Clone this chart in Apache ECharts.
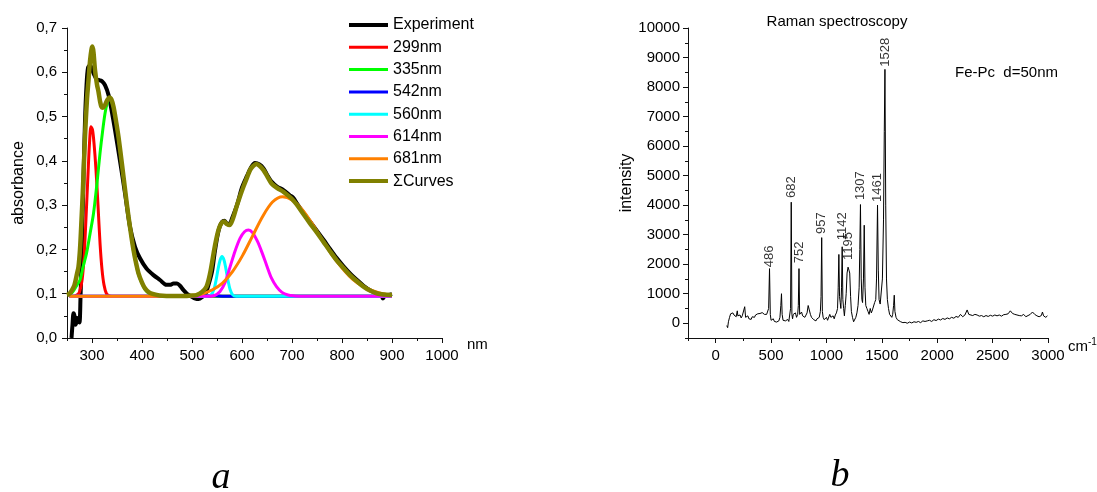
<!DOCTYPE html>
<html>
<head>
<meta charset="utf-8">
<script src="https://cdn.jsdelivr.net/npm/echarts@6/dist/echarts.min.js"></script>
<style>html,body{margin:0;padding:0;background:#fff;}#c{width:1097px;height:492px;}</style>
</head>
<body>
<div id="c"></div>
<script>
// ---------- Panel a: absorbance (nm, absorbance) ----------
const experiment = [[259,0.0],[261,0.03],[263,0.056],[265,0.05],[267,0.03],[269,0.035],[271,0.045],[273,0.04],[275,0.035],[277,0.09],[279,0.17],[281,0.27],[283,0.36],[286,0.49],[289,0.57],[292,0.61],[296,0.616],[300,0.607],[303,0.598],[309,0.585],[315,0.582],[320,0.58],[326,0.571],[333,0.549],[339,0.515],[346,0.47],[356,0.40],[366,0.327],[376,0.251],[386,0.206],[396,0.18],[409,0.157],[423,0.142],[436,0.131],[449,0.12],[456,0.12],[463,0.123],[470,0.123],[476,0.118],[483,0.108],[490,0.10],[500,0.093],[507,0.089],[513,0.088],[520,0.092],[527,0.10],[533,0.12],[540,0.15],[545,0.19],[550,0.225],[555,0.25],[560,0.262],[565,0.265],[570,0.258],[575,0.258],[580,0.27],[590,0.3],[600,0.34],[610,0.366],[618,0.385],[626,0.395],[635,0.392],[643,0.383],[651,0.367],[659,0.353],[670,0.342],[683,0.334],[695,0.323],[703,0.316],[709,0.305],[722,0.284],[736,0.263],[750,0.242],[763,0.222],[776,0.201],[789,0.181],[803,0.162],[816,0.146],[830,0.131],[843,0.118],[856,0.108],[869,0.101],[878,0.097],[882,0.089],[886,0.096],[893,0.097],[900,0.099]];
const c299 = [[255,0.094],[265,0.095],[270,0.097],[275,0.104],[280,0.13],[284,0.18],[288,0.27],[292,0.37],[295,0.44],[298,0.477],[301,0.47],[304,0.44],[308,0.379],[312,0.3],[316,0.215],[320,0.155],[324,0.12],[329,0.1],[335,0.095],[345,0.094],[900,0.094]];
const c335 = [[255,0.095],[262,0.105],[270,0.12],[276,0.131],[282,0.16],[289,0.191],[296,0.235],[303,0.281],[310,0.35],[316,0.417],[321,0.465],[326,0.507],[331,0.533],[335,0.541],[339,0.535],[343,0.52],[348,0.49],[353,0.452],[358,0.408],[363,0.362],[368,0.316],[373,0.272],[378,0.233],[383,0.197],[388,0.168],[393,0.144],[400,0.123],[406,0.11],[414,0.101],[423,0.097],[435,0.095],[450,0.094],[900,0.094]];
const c542 = [[255,0.094],[520,0.094],[542,0.096],[565,0.094],[900,0.094]];
const c560 = [[255,0.094],[530,0.094],[538,0.097],[544,0.11],[548,0.13],[552,0.155],[556,0.175],[560,0.184],[564,0.176],[568,0.155],[572,0.13],[576,0.11],[581,0.098],[588,0.094],[900,0.094]];
const c614 = [[255,0.094],[530,0.094],[545,0.096],[556,0.105],[566,0.125],[576,0.16],[586,0.196],[596,0.225],[605,0.24],[613,0.244],[621,0.238],[631,0.218],[641,0.19],[649,0.165],[659,0.135],[669,0.116],[680,0.103],[692,0.097],[705,0.095],[720,0.094],[900,0.094]];
const c681 = [[255,0.094],[480,0.094],[501,0.0965],[521,0.100],[541,0.109],[561,0.124],[581,0.150],[601,0.186],[621,0.230],[641,0.274],[661,0.307],[681,0.319],[701,0.311],[721,0.289],[741,0.257],[761,0.221],[781,0.186],[801,0.157],[821,0.133],[841,0.117],[861,0.107],[881,0.100],[900,0.097]];
const sumCurves = [[250,0.097],[255,0.1],[260,0.108],[265,0.12],[270,0.145],[273,0.161],[276,0.2],[279,0.266],[282,0.34],[286,0.454],[290,0.54],[293,0.582],[296,0.625],[299,0.652],[301,0.658],[303,0.645],[306,0.605],[310,0.572],[313,0.556],[316,0.535],[319,0.522],[322,0.52],[326,0.526],[330,0.536],[335,0.543],[339,0.538],[343,0.522],[348,0.49],[353,0.454],[358,0.41],[363,0.364],[368,0.318],[373,0.274],[378,0.235],[383,0.199],[388,0.17],[393,0.146],[400,0.125],[406,0.112],[414,0.103],[423,0.099],[435,0.096],[449,0.095],[470,0.095],[490,0.095],[502,0.096],[509,0.097],[520,0.104],[529,0.116],[536,0.145],[543,0.19],[548,0.22],[553,0.244],[558,0.258],[564,0.263],[570,0.257],[575,0.255],[582,0.27],[589,0.296],[596,0.32],[603,0.342],[610,0.362],[616,0.379],[622,0.388],[628,0.393],[635,0.389],[643,0.379],[651,0.364],[659,0.349],[670,0.339],[683,0.33],[693,0.321],[700,0.314],[709,0.302],[722,0.281],[736,0.259],[750,0.238],[763,0.217],[776,0.196],[789,0.176],[803,0.158],[816,0.142],[830,0.128],[843,0.116],[856,0.107],[869,0.101],[883,0.098],[896,0.097],[900,0.097]];
const legendNames = ['Experiment','299nm','335nm','542nm','560nm','614nm','681nm','ΣCurves'];
const absTicksMajor = [300,400,500,600,700,800,900,1000];
const absTicksMinor = [250,350,450,550,650,750,850,950];

// ---------- Panel b: Raman (cm-1, intensity) ----------
const raman = [[100,-80],[108,-150],[115,50],[125,200],[135,320],[145,260],[155,350],[165,280],[175,300],[185,220],[195,420],[200,250],[210,200],[220,280],[230,180],[240,250],[255,300],[262,560],[270,200],[280,180],[290,250],[300,150],[310,200],[320,130],[330,220],[340,250],[350,200],[360,280],[370,300],[380,320],[390,350],[400,330],[410,370],[420,360],[430,340],[440,300],[450,280],[460,300],[470,250],[478,500],[486,1850],[493,300],[500,100],[510,80],[520,150],[530,60],[540,120],[550,40],[560,100],[570,80],[580,200],[588,600],[594,1000],[600,300],[608,100],[620,120],[630,80],[640,60],[650,130],[660,60],[670,100],[676,500],[682,4100],[688,300],[694,150],[700,300],[710,250],[720,350],[730,200],[740,300],[746,600],[752,1850],[758,300],[765,250],[775,380],[785,250],[795,300],[805,200],[815,250],[825,350],[835,600],[845,450],[855,300],[865,200],[875,150],[885,120],[895,100],[905,80],[915,150],[925,120],[935,200],[945,400],[951,900],[957,2900],[963,400],[970,200],[980,120],[990,80],[1000,200],[1010,100],[1020,150],[1030,300],[1040,200],[1050,180],[1060,250],[1070,150],[1080,280],[1090,350],[1100,500],[1106,1200],[1112,2330],[1118,900],[1124,700],[1130,500],[1136,1200],[1142,2590],[1148,800],[1155,500],[1162,250],[1170,600],[1178,1000],[1186,1700],[1195,1900],[1203,1800],[1210,1700],[1218,900],[1225,400],[1235,200],[1245,50],[1255,100],[1265,200],[1275,350],[1285,600],[1295,1200],[1301,2500],[1307,4020],[1314,1500],[1320,800],[1326,700],[1334,1500],[1341,3320],[1348,1200],[1355,600],[1365,500],[1375,400],[1385,300],[1395,500],[1405,350],[1415,450],[1425,400],[1435,700],[1445,800],[1452,1500],[1461,4000],[1468,1800],[1475,800],[1485,650],[1495,700],[1505,1500],[1515,3500],[1522,6500],[1528,8600],[1535,4000],[1542,1500],[1550,800],[1560,500],[1570,300],[1580,250],[1590,200],[1598,300],[1606,600],[1612,950],[1618,400],[1628,200],[1640,120],[1655,80],[1670,50],[1690,20],[1710,30],[1730,0],[1750,40],[1770,10],[1790,50],[1810,30],[1830,60],[1850,20],[1870,80],[1880,140],[1890,60],[1910,80],[1930,100],[1950,60],[1970,120],[1990,90],[2010,140],[2030,110],[2050,160],[2070,130],[2090,180],[2110,150],[2130,200],[2150,170],[2170,230],[2190,200],[2210,300],[2230,220],[2250,280],[2270,450],[2285,300],[2300,320],[2320,260],[2340,300],[2360,280],[2380,240],[2400,260],[2420,220],[2440,260],[2460,230],[2480,270],[2500,240],[2520,280],[2540,250],[2560,280],[2580,240],[2600,290],[2620,300],[2640,320],[2660,420],[2670,400],[2680,330],[2700,300],[2720,280],[2740,260],[2760,250],[2780,300],[2800,220],[2820,260],[2840,300],[2860,380],[2870,400],[2880,300],[2900,250],[2920,220],[2940,260],[2950,380],[2960,250],[2980,200],[2995,250]];
const peakNames = ['486','682','752','957','1142','1195','1307','1461','1528'];
const peakX = [486,682,752,957,1142,1195,1307,1461,1528];
const peakLabelY = [1900,4240,2030,3020,2810,2140,4170,4110,8690];
const ramanTicksMajorX = [0,500,1000,1500,2000,2500,3000];
const ramanTicksMinorX = [-250,250,750,1250,1750,2250,2750];
const ramanTicksMajorY = [0,1000,2000,3000,4000,5000,6000,7000,8000,9000,10000];
const ramanTicksMinorY = [-500,500,1500,2500,3500,4500,5500,6500,7500,8500,9500];

const FONT = 'Liberation Sans, Arial, sans-serif';
const AX = '#111';
const colors = ['#000000','#ff0000','#00ff00','#0000ff','#00ffff','#ff00ff','#ff8000','#808000'];
const widths = [4,3,3,3,3,3,3,4.5];
const legendWidths = [4,3,3,3,3,3,3,4];
const absData = [experiment,c299,c335,c542,c560,c614,c681,sumCurves];

function majorAxis(grid, min, max, ticks, fmt, isX) {
  return {
    type:'value', gridIndex:grid, min:min, max:max, interval: isX ? 50 : 500,
    position: isX ? 'bottom' : 'left',
    axisLine:{show:true,onZero:false,lineStyle:{color:AX,width:1}},
    axisTick:{show:true,inside:false,length:5,customValues:ticks,lineStyle:{color:AX}},
    axisLabel:{show:true,customValues:ticks,margin:isX?10:8,fontFamily:FONT,fontSize:15,color:'#000',formatter:fmt},
    splitLine:{show:false}
  };
}
function minorAxis(grid, min, max, ticks, isX) {
  return {
    type:'value', gridIndex:grid, min:min, max:max, interval: isX ? 50 : 500,
    position: isX ? 'bottom' : 'left',
    axisLine:{show:false,onZero:false},
    axisTick:{show:true,inside:false,length:3,customValues:ticks,lineStyle:{color:AX}},
    axisLabel:{show:false},
    splitLine:{show:false}
  };
}

const xA = majorAxis(0,250,1000,absTicksMajor,v=>String(v),true);
const xAm = minorAxis(0,250,1000,absTicksMinor,true);
const xR = majorAxis(1,-250,3000,ramanTicksMajorX,v=>String(v),true);
xR.interval = 250;
const xRm = minorAxis(1,-250,3000,ramanTicksMinorX,true);
xRm.interval = 250;
const yR = majorAxis(1,-500,10000,ramanTicksMajorY,v=>String(v),false);
yR.name = 'intensity'; yR.nameLocation='middle'; yR.nameGap=44; yR.nameRotate=90;
yR.nameTextStyle = {fontFamily:FONT,fontSize:16,color:'#000'};
const yRm = minorAxis(1,-500,10000,ramanTicksMinorY,false);

const yA = {
  type:'value', gridIndex:0, min:0, max:0.7, interval:0.1, position:'left',
  axisLine:{show:true,onZero:false,lineStyle:{color:AX,width:1}},
  axisTick:{show:true,length:5,lineStyle:{color:AX}},
  minorTick:{show:true,splitNumber:2,length:3,lineStyle:{color:AX}},
  axisLabel:{margin:10,fontFamily:FONT,fontSize:15,color:'#000',formatter:v=>v.toFixed(1).replace('.',',')},
  splitLine:{show:false},
  name:'absorbance', nameLocation:'middle', nameGap:40, nameRotate:90,
  nameTextStyle:{fontFamily:FONT,fontSize:16,color:'#000'}
};

const series = absData.map((d,i)=>({
  name: legendNames[i], type:'line', xAxisIndex:0, yAxisIndex:0, data:d,
  symbol:'none', smooth:0.3, z: 2+i,
  lineStyle:{color:colors[i],width:widths[i]}, itemStyle:{color:colors[i]},
  emphasis:{disabled:true}, silent:true, animation:false
}));
series.push({
  name:'raman', type:'line', xAxisIndex:2, yAxisIndex:1, data:raman, symbol:'none',
  lineStyle:{color:'#000',width:1}, emphasis:{disabled:true}, silent:true, animation:false
});
series.push({
  name:'peaks', type:'scatter', xAxisIndex:2, yAxisIndex:1, symbolSize:0,
  data: peakX.map((x,i)=>({value:[x,peakLabelY[i]], name:peakNames[i]})),
  label:{show:true, position:'top', distance:0, rotate:90, align:'left', verticalAlign:'middle',
    formatter:p=>p.name, fontFamily:FONT, fontSize:13, color:'#000'},
  silent:true, animation:false
});

const chart = echarts.init(document.getElementById('c'), null, {renderer:'canvas'});
chart.setOption({
  backgroundColor:'#ffffff',
  animation:false,
  grid:[
    {left:67, top:28, width:375, height:310},
    {left:688, top:28, width:360, height:310}
  ],
  xAxis:[xA,xAm,xR,xRm],
  yAxis:[yA,yR,yRm],
  legend:{
    data:legendNames.map((n,i)=>({name:n, lineStyle:{width:legendWidths[i], color:colors[i]}})),
    orient:'vertical', left:342, top:12,
    itemWidth:39, itemHeight:16, itemGap:6.3, selectedMode:false,
    itemStyle:{opacity:0},
    textStyle:{fontFamily:FONT,fontSize:16,color:'#000',lineHeight:16}
  },
  graphic:[
    {type:'text', left:467, top:337, style:{text:'nm', font:'15px '+FONT, fill:'#000'}},
    {type:'text', left:1068, top:337, style:{text:'cm{s|-1}', font:'15px '+FONT, fill:'#000', rich:{s:{fontSize:10, verticalAlign:'top', padding:[0,0,10,0], fontFamily:FONT}}}},
    {type:'text', x:837, y:22, style:{text:'Raman spectroscopy', font:'15px '+FONT, fill:'#000', align:'center', verticalAlign:'middle'}},
    {type:'text', x:955, y:73, style:{text:'Fe-Pc  d=50nm', font:'15px '+FONT, fill:'#000', align:'left', verticalAlign:'middle'}},
    {type:'text', x:221, y:478, style:{text:'a', font:'italic 38px "Liberation Serif", serif', fill:'#000', align:'center', verticalAlign:'middle'}},
    {type:'text', x:840, y:476, style:{text:'b', font:'italic 38px "Liberation Serif", serif', fill:'#000', align:'center', verticalAlign:'middle'}}
  ],
  series:series
});
</script>
</body>
</html>
